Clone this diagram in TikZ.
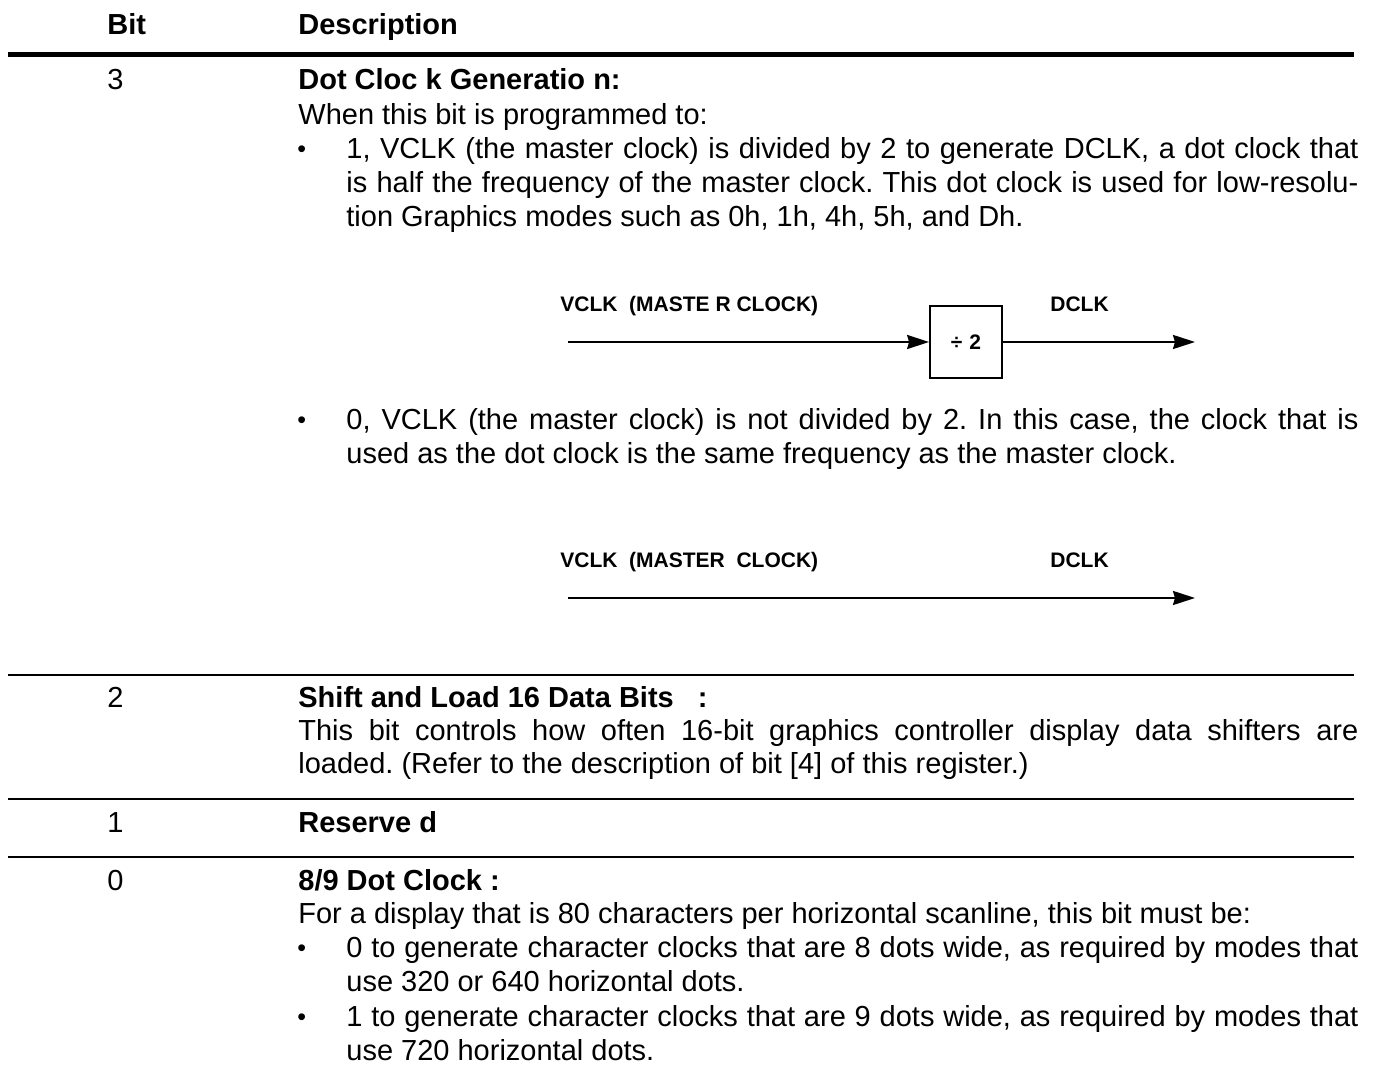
\documentclass[tikz,border=0pt]{standalone}
\usepackage{fontspec}
\setmainfont{Liberation Sans}
\usetikzlibrary{arrows.meta}
% one justified text line of the description column
\newcommand\jline[1]{\makebox[506pt][s]{#1}}
\frenchspacing
\begin{document}
\begin{tikzpicture}[x=0.5pt,y=-0.5pt,
  txt/.style={anchor=base west,inner sep=0pt,font=\fontsize{14.5}{17}\selectfont},
  head/.style={anchor=base west,inner sep=0pt,font=\fontsize{14.5}{17}\selectfont\bfseries},
  lbl/.style={anchor=base west,inner sep=0pt,font=\fontsize{10.5}{12}\selectfont\bfseries},
  dot/.style={anchor=base west,inner sep=0pt,font=\fontsize{12.5}{17}\selectfont},
  rulethin/.style={line width=1pt},
  rulethick/.style={line width=2.75pt},
  wire/.style={line width=1pt,-{Stealth[length=11pt,width=7pt,inset=1pt]}},
  divbox/.style={draw,line width=0.9pt,minimum width=36pt,minimum height=36pt,
    inner sep=0pt,font=\fontsize{10.5}{12}\selectfont\bfseries}]
\useasboundingbox (0,0) rectangle (1377,1080);

% table header
\node[head] (hbit) at (107,35) {Bit};
\node[head] (hdesc) at (298,35) {Description};
\draw[rulethick] (8,54.5) -- (1354,54.5);

% bit 3
\node[txt] (b3) at (107,90) {3};
\node[head] (t3) at (298,90) {Dot Cloc k Generatio n:};
\node[txt] (l3a) at (298,125) {When this bit is programmed to:};
\node[dot] (u3a) at (297,158) {•};
\node[txt] (l3b) at (346,159) {\jline{1, VCLK (the master clock) is divided by 2 to generate DCLK, a dot clock that}};
\node[txt] (l3c) at (346,193) {\jline{is half the frequency of the master clock. This dot clock is used for low-resolu-}};
\node[txt] (l3d) at (346,227) {tion Graphics modes such as 0h, 1h, 4h, 5h, and Dh.};

% divided clock path
\node[lbl] (vin1) at (560,311.5) {VCLK\ \ (MASTE R CLOCK)};
\node[lbl] (dout1) at (1050,311.5) {DCLK};
\node[divbox] (div) at (966,342) {÷\,\,2};
\coordinate (in1) at (568,342);
\coordinate (out1) at (1195,342);
\draw[wire] (in1) -- (div.west);
\draw[wire] (div.east) -- (out1);

\node[dot] (u3b) at (297,429) {•};
\node[txt] (l3e) at (346,430) {\jline{0, VCLK (the master clock) is not divided by 2. In this case, the clock that is}};
\node[txt] (l3f) at (346,464) {used as the dot clock is the same frequency as the master clock.};

% undivided clock path
\node[lbl] (vin2) at (560,567.5) {VCLK\ \ (MASTER\ \ CLOCK)};
\node[lbl] (dout2) at (1050,567.5) {DCLK};
\coordinate (in2) at (568,598);
\coordinate (out2) at (1195,598);
\draw[wire] (in2) -- (out2);

\draw[rulethin] (8,675) -- (1354,675);

% bit 2
\node[txt] (b2) at (107,707) {2};
\node[head] (t2) at (298,707) {Shift and Load 16 Data Bits\ \ \ :};
\node[txt] (l2a) at (298,740) {\makebox[530pt][s]{This bit controls how often 16-bit graphics controller display data shifters are}};
\node[txt] (l2b) at (298,773) {loaded. (Refer to the description of bit [4] of this register.)};

\draw[rulethin] (8,799) -- (1354,799);

% bit 1
\node[txt] (b1) at (107,832) {1};
\node[head] (t1) at (298,832) {Reserve d};

\draw[rulethin] (8,857) -- (1354,857);

% bit 0
\node[txt] (b0) at (107,890) {0};
\node[head] (t0) at (298,890) {8/9 Dot Clock :};
\node[txt] (l0a) at (298,923) {For a display that is 80 characters per horizontal scanline, this bit must be:};
\node[dot] (u0a) at (297,956) {•};
\node[txt] (l0b) at (346,957) {\jline{0 to generate character clocks that are 8 dots wide, as required by modes that}};
\node[txt] (l0c) at (346,991) {use 320 or 640 horizontal dots.};
\node[dot] (u0b) at (297,1025) {•};
\node[txt] (l0d) at (346,1026) {\jline{1 to generate character clocks that are 9 dots wide, as required by modes that}};
\node[txt] (l0e) at (346,1060) {use 720 horizontal dots.};
\end{tikzpicture}
\end{document}
